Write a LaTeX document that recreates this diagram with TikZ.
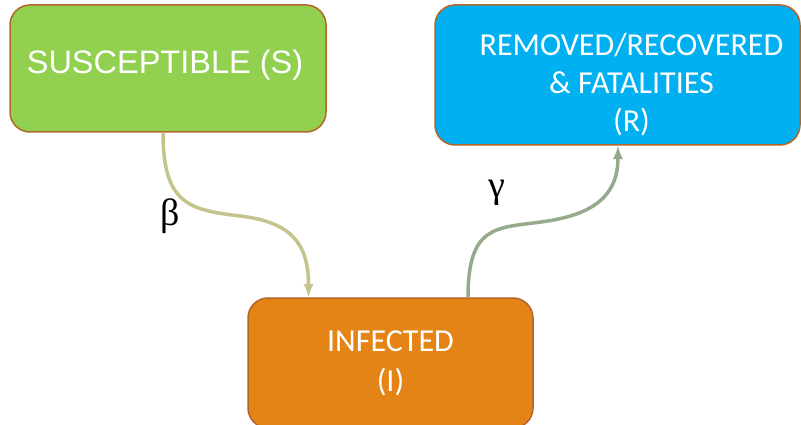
\documentclass[tikz,border=0pt]{standalone}
\usepackage{fontspec}
\usepackage{tikz}
\usetikzlibrary{calc,shapes,arrows}
\newfontfamily\arialfont{Liberation Sans}
\newfontfamily\calfont{Carlito}
\newfontfamily\greekfont{Liberation Serif}
\definecolor{susgreen}{RGB}{146,208,80}
\definecolor{recblue}{RGB}{0,176,240}
\definecolor{infora}{RGB}{228,131,22}
\definecolor{boxrim}{RGB}{178,102,40}
\definecolor{betaline}{RGB}{196,196,140}
\definecolor{gammaline}{RGB}{150,170,140}

\begin{document}
\begin{tikzpicture}[x=1pt,y=-1pt,
        compartment/.style={rectangle, rounded corners=20pt, draw=boxrim, line width=1.5pt,
            text=white, align=center, inner sep=0pt},
        rate/.style={line width=3.5pt, -latex}]
        \useasboundingbox (0,0) rectangle (801,425);
        \clip (0,0) rectangle (801,425);
        \node[compartment, fill=susgreen, minimum width=316pt, minimum height=127pt] (S)
            at (168,68.5) {\raisebox{3pt}[\height][\depth]{\arialfont\fontsize{32.5}{38}\selectfont SUSCEPTIBLE (S)\hspace{6pt}}};
        \node[compartment, fill=recblue, minimum width=365pt, minimum height=140pt] (R)
            at (617.5,75) {\raisebox{-11pt}[\height][\depth]{\hspace{28pt}\calfont\fontsize{32}{38}\selectfont
            \begin{tabular}{c}REMOVED/RECOVERED\\ \& FATALITIES\\ (R)\end{tabular}}};
        \node[compartment, fill=infora, minimum width=285pt, minimum height=130pt] (I)
            at (390.5,363) {\calfont\fontsize{32}{40}\selectfont
            \begin{tabular}{c}INFECTED\\ (I)\end{tabular}};
        \coordinate (bmid) at (240,216);
        \coordinate (gmid) at (541,222);
        \draw[rate, color=betaline] ([xshift=-5pt]S.south) .. controls +(0,72) and +(-50,-6) .. (bmid)
            .. controls +(50,6) and +(0,-55) .. ([xshift=-82pt]I.north);
        \draw[rate, color=gammaline] ([xshift=77.5pt]I.north) .. controls +(0,-72) and +(-45,6) .. (gmid)
            .. controls +(45,-6) and +(0,55) .. ([xshift=0.5pt]R.south);
        \node (beta) at (170,216) {\greekfont\fontsize{38}{44}\selectfont β};
        \node (gamma) at (497,193) {\greekfont\fontsize{38}{44}\selectfont γ};
    \end{tikzpicture}
\end{document}
